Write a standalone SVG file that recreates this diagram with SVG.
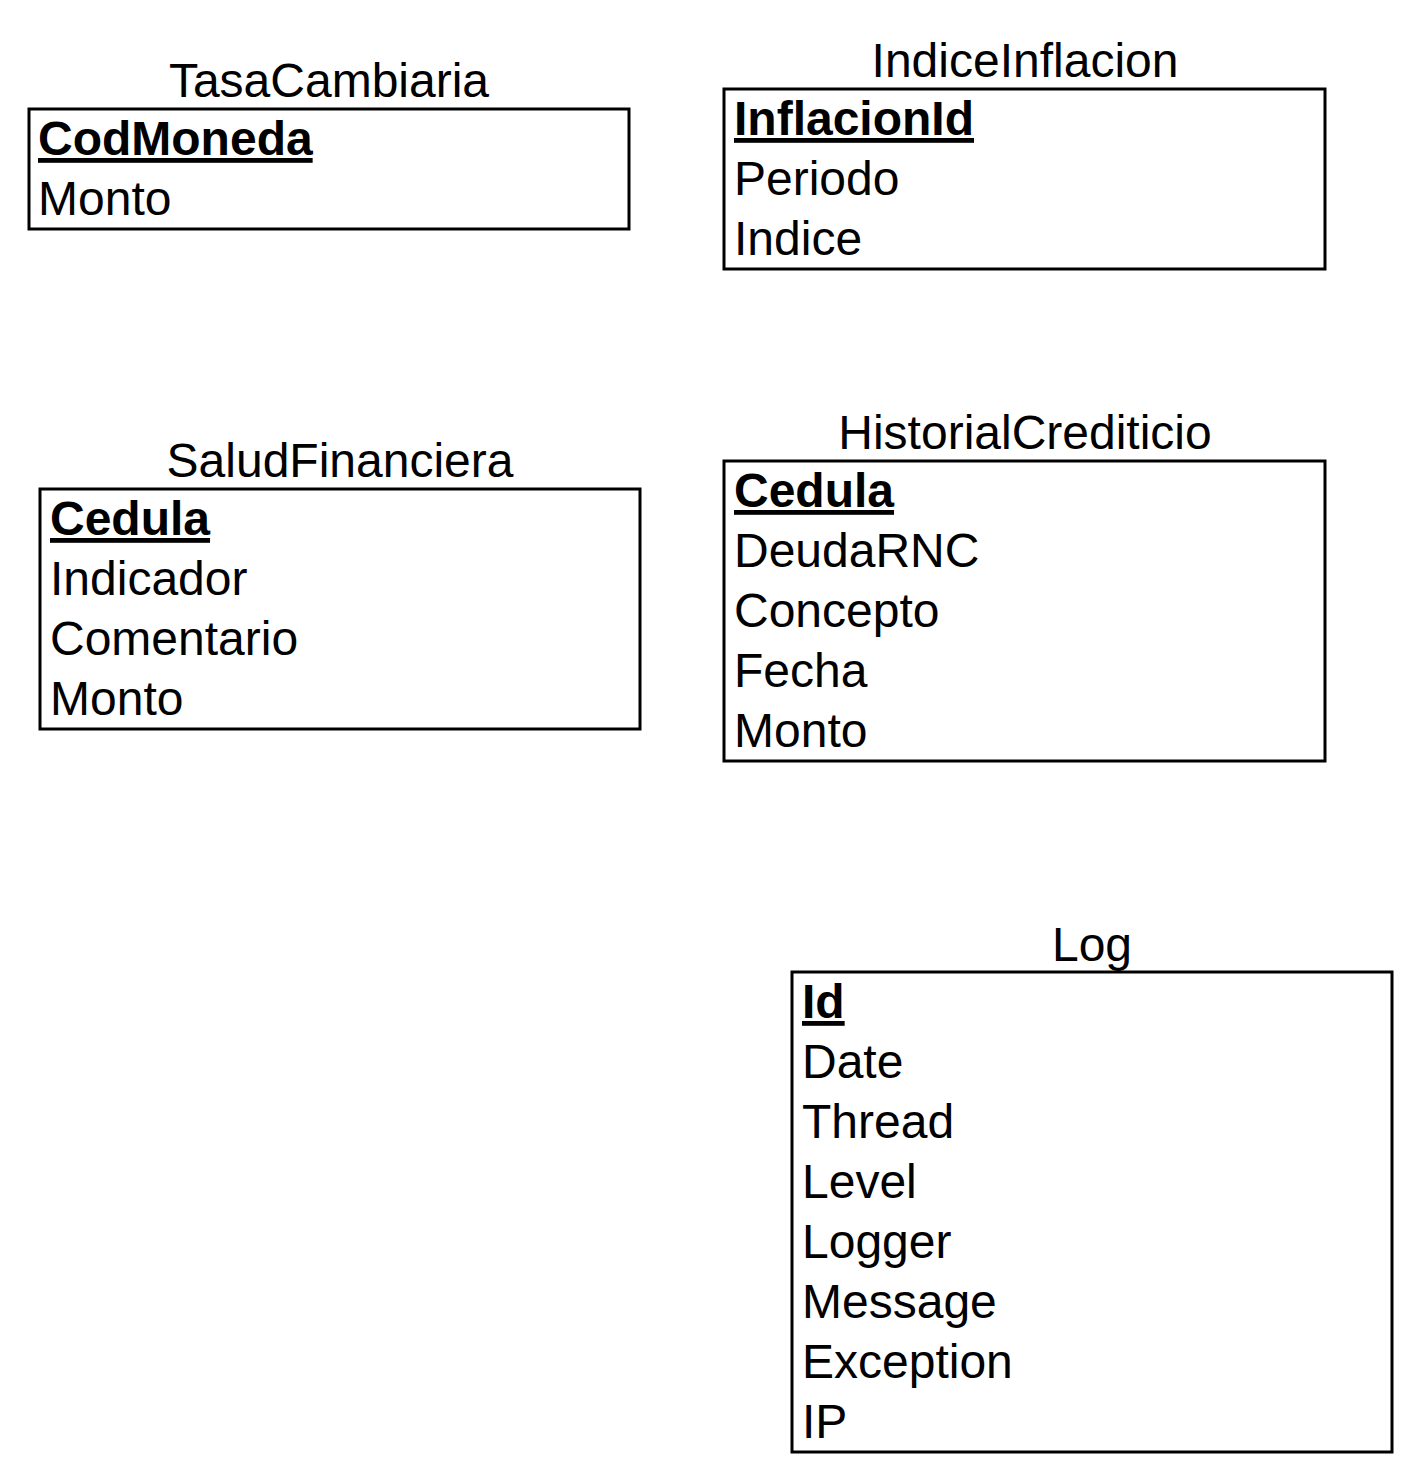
<svg xmlns="http://www.w3.org/2000/svg" width="1420" height="1480" viewBox="0 0 1420 1480">
<style>
.box{fill:#fff;stroke:#000;stroke-width:3}
text{font-family:"Liberation Sans",Arial,sans-serif;font-size:48px;fill:#000}
.t{text-anchor:middle}
.k{font-weight:bold;text-decoration:underline}
</style>
<rect width="1420" height="1480" fill="#fff"/>
<g id="connectors"></g>
<g id="TasaCambiaria">
<text class="t" x="329" y="97">TasaCambiaria</text>
<rect class="box" x="29" y="109" width="600" height="120"/>
<text class="k" x="38" y="155">CodMoneda</text>
<text x="38" y="215">Monto</text>
</g>
<g id="IndiceInflacion">
<text class="t" x="1025" y="77">IndiceInflacion</text>
<rect class="box" x="724" y="89" width="601" height="180"/>
<text class="k" x="734" y="135">InflacionId</text>
<text x="734" y="195">Periodo</text>
<text x="734" y="255">Indice</text>
</g>
<g id="SaludFinanciera">
<text class="t" x="340" y="477">SaludFinanciera</text>
<rect class="box" x="40" y="489" width="600" height="240"/>
<text class="k" x="50" y="535">Cedula</text>
<text x="50" y="595">Indicador</text>
<text x="50" y="655">Comentario</text>
<text x="50" y="715">Monto</text>
</g>
<g id="HistorialCrediticio">
<text class="t" x="1025" y="449">HistorialCrediticio</text>
<rect class="box" x="724" y="461" width="601" height="300"/>
<text class="k" x="734" y="507">Cedula</text>
<text x="734" y="567">DeudaRNC</text>
<text x="734" y="627">Concepto</text>
<text x="734" y="687">Fecha</text>
<text x="734" y="747">Monto</text>
</g>
<g id="Log">
<text class="t" x="1092" y="961">Log</text>
<rect class="box" x="792" y="972" width="600" height="480"/>
<text class="k" x="802" y="1018">Id</text>
<text x="802" y="1078">Date</text>
<text x="802" y="1138">Thread</text>
<text x="802" y="1198">Level</text>
<text x="802" y="1258">Logger</text>
<text x="802" y="1318">Message</text>
<text x="802" y="1378">Exception</text>
<text x="802" y="1438">IP</text>
</g>
</svg>
